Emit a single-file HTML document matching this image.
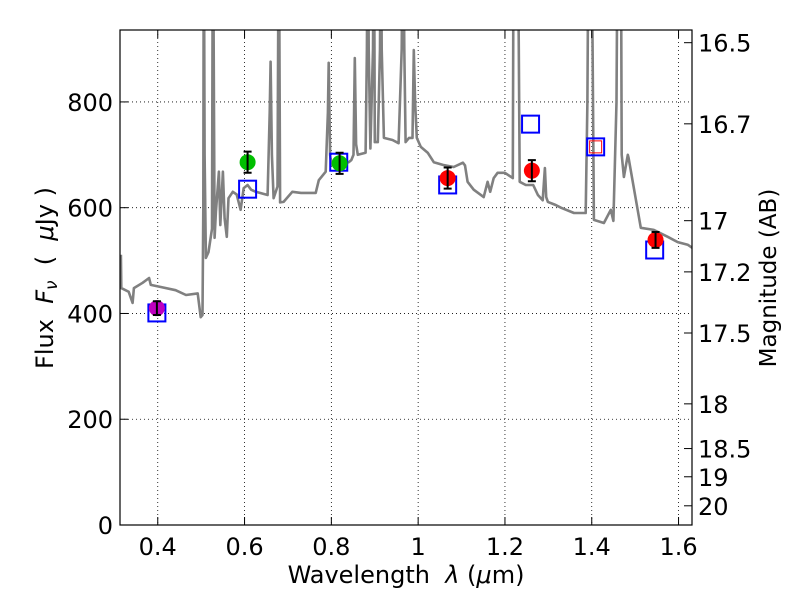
<!DOCTYPE html>
<html><head><meta charset="utf-8">
<style>
html,body{margin:0;padding:0;background:#fff;}
svg{display:block;font-family:"DejaVu Sans","Liberation Sans",sans-serif;}
</style></head>
<body>
<svg id="chart" width="800" height="600" viewBox="0 0 800 600">
  <rect x="0" y="0" width="800" height="600" fill="#fff"/>
  <g id="grid"></g>
  <defs><clipPath id="clip"><rect x="120" y="30" width="572" height="495"/></clipPath></defs>
  <g id="plot" clip-path="url(#clip)"></g>
  <rect x="120" y="30" width="572" height="495" fill="none" stroke="#000" stroke-width="1.2"/>
  <g id="axes"></g>
  <text x="406" y="583" font-size="24" text-anchor="middle">Wavelength&#160;&#160;<tspan font-style="italic">λ</tspan> (<tspan font-style="italic">μ</tspan>m)</text>
  <text transform="translate(53,278) rotate(-90)" font-size="24" text-anchor="middle">Flux&#160;&#160;<tspan font-style="italic">F<tspan font-size="17" dy="4">ν</tspan></tspan><tspan dy="-4">&#160;&#160;(&#160;&#160;</tspan><tspan font-style="italic">μ</tspan>Jy )</text>
  <text transform="translate(776,278) rotate(-90)" font-size="23" text-anchor="middle">Magnitude (AB)</text>
</svg>
<script>
// ---- data ----
const specWave = [0.315,0.316,0.333,0.342,0.345,0.365,0.38,0.384,0.407,0.441,0.465,0.492,0.499,0.503,0.505,0.506,0.508,0.511,0.517,0.525,0.527,0.529,0.531,0.534,0.541,0.544,0.55,0.554,0.559,0.563,0.573,0.582,0.591,0.598,0.607,0.615,0.626,0.653,0.658,0.66,0.663,0.667,0.676,0.679,0.682,0.69,0.71,0.73,0.746,0.764,0.771,0.787,0.792,0.794,0.797,0.8,0.84,0.846,0.851,0.854,0.857,0.861,0.879,0.882,0.884,0.886,0.89,0.896,0.898,0.9,0.907,0.912,0.914,0.916,0.921,0.941,0.955,0.962,0.965,0.968,0.971,0.979,0.987,0.99,0.993,0.997,1.006,1.022,1.036,1.057,1.082,1.103,1.108,1.114,1.128,1.151,1.16,1.166,1.174,1.183,1.2,1.218,1.219,1.22,1.222,1.229,1.232,1.234,1.248,1.265,1.276,1.287,1.292,1.295,1.299,1.317,1.329,1.359,1.386,1.39,1.393,1.398,1.402,1.405,1.428,1.444,1.45,1.457,1.46,1.467,1.469,1.474,1.483,1.485,1.513,1.543,1.575,1.598,1.621,1.635];
const specFlux = [511,448,441,420,448,458,467,454,450,444,435,438,393,397,600,1200,700,505,516,560,1200,900,543,592,668,567,668,580,545,618,630,625,596,637,643,634,630,624,780,876,700,618,640,1200,610,611,630,628,628,628,652,668,780,874,700,681,686,690,700,883,720,700,704,900,1200,900,712,900,1200,724,724,900,1200,900,732,728,722,900,1200,900,724,732,732,898,800,732,715,704,686,681,677,685,680,649,634,620,649,630,656,666,666,656,900,1200,1200,1200,900,649,643,643,624,614,675,620,611,605,600,590,590,800,1200,1200,900,577,571,596,575,800,1200,1200,700,658,700,694,562,558,545,535,530,522,524];
const photWave = [0.398,0.607,0.819,1.068,1.262,1.547];
const photFlux = [410,686,684,656,670,539];
const photErr  = [13,20,20,20,20,15];
const photColor = ['#bf00bf','#00bf00','#00bf00','#ff0000','#ff0000','#ff0000'];
const modelWave = [0.398,0.607,0.817,1.068,1.259,1.409,1.545];
const modelFlux = [401,635,686,643,758,715,520];
const xTicks = [0.4,0.6,0.8,1.0,1.2,1.4,1.6];
const xTickLabels = ['0.4','0.6','0.8','1','1.2','1.4','1.6'];
const yTicks = [0,200,400,600,800];
const magTicks = [16.5,16.7,17,17.2,17.5,18,18.5,19,20];
const magTickLabels = ['16.5','16.7','17','17.2','17.5','18','18.5','19','20'];

// ---- axes ----
const X0=120,X1=692,Y0=525,Y1=30, xmin=0.313,xmax=1.631, ymin=0,ymax=936;
const xs=v=>X0+(v-xmin)/(xmax-xmin)*(X1-X0);
const ys=v=>Y0-(v-ymin)/(ymax-ymin)*(Y0-Y1);
const NS='http://www.w3.org/2000/svg';
function mk(tag,attrs,parent){const e=document.createElementNS(NS,tag);for(const k in attrs)e.setAttribute(k,attrs[k]);parent.appendChild(e);return e;}
const grid=document.getElementById('grid'),plot=document.getElementById('plot'),axes=document.getElementById('axes');

xTicks.forEach((t,i)=>{
  const x=xs(t);
  const g=mk('line',{x1:x,x2:x,y1:Y1,y2:Y0,stroke:'#000','stroke-width':0.8,'stroke-dasharray':'1,3'},grid);
  
  
  const tk=mk('line',{x1:x,x2:x,y1:Y0,y2:Y0-8,stroke:'#000'},axes);
  
  
  const tk2=mk('line',{x1:x,x2:x,y1:Y1,y2:Y1+8,stroke:'#000'},axes);
  
  
  const lb=mk('text',{x:x,y:555,'font-size':24,'text-anchor':'middle'},axes);
  lb.textContent=xTickLabels[i];
  
  
});
yTicks.forEach(t=>{
  const y=ys(t);
  const g=mk('line',{x1:X0,x2:X1,y1:y,y2:y,stroke:'#000','stroke-width':0.8,'stroke-dasharray':'1,3'},grid);
  
  
  const tk=mk('line',{x1:X0,x2:X0+8,y1:y,y2:y,stroke:'#000'},axes);
  
  
  const lb=mk('text',{x:113,y:y+9,'font-size':24,'text-anchor':'end'},axes);
  lb.textContent=String(t);
  
  
});
magTicks.forEach((m,i)=>{
  const y=ys(Math.pow(10,(23.9-m)/2.5));
  const tk=mk('line',{x1:X1,x2:X1-8,y1:y,y2:y,stroke:'#000'},axes);
  
  
  const lb=mk('text',{x:698,y:y+9,'font-size':24,'text-anchor':'start'},axes);
  lb.textContent=magTickLabels[i];
  
  
});

// spectrum
const pts=specWave.map((w,i)=>xs(w).toFixed(1)+','+ys(specFlux[i]).toFixed(1)).join(' ');
const sp=mk('polyline',{points:pts,fill:'none',stroke:'#808080','stroke-width':2.6,'stroke-linejoin':'round'},plot);



// model boxes
modelWave.forEach((w,i)=>{
  const x=xs(w),y=ys(modelFlux[i]);
  const r=mk('rect',{x:x-8.5,y:y-8.5,width:17,height:17,fill:'none',stroke:'#0000ff','stroke-width':2},plot);
  
  
});
{ // small red square inside 1.4 box
  const x=xs(modelWave[5]),y=ys(modelFlux[5]);
  const r=mk('rect',{x:x-6,y:y-6,width:12,height:12,fill:'none',stroke:'#ff0000','stroke-width':1},plot);
  
  
}
// photometry points
photWave.forEach((w,i)=>{
  const x=xs(w),y=ys(photFlux[i]);
  const c=mk('circle',{cx:x,cy:y,r:8,fill:photColor[i]},plot);
  
  
  const yt=ys(photFlux[i]+photErr[i]),yb=ys(photFlux[i]-photErr[i]);
  const e=mk('path',{d:`M${x},${yt}V${yb}M${x-4},${yt}H${x+4}M${x-4},${yb}H${x+4}`,stroke:'#000','stroke-width':2,fill:'none'},plot);
  
  
});
</script>
</body></html>
